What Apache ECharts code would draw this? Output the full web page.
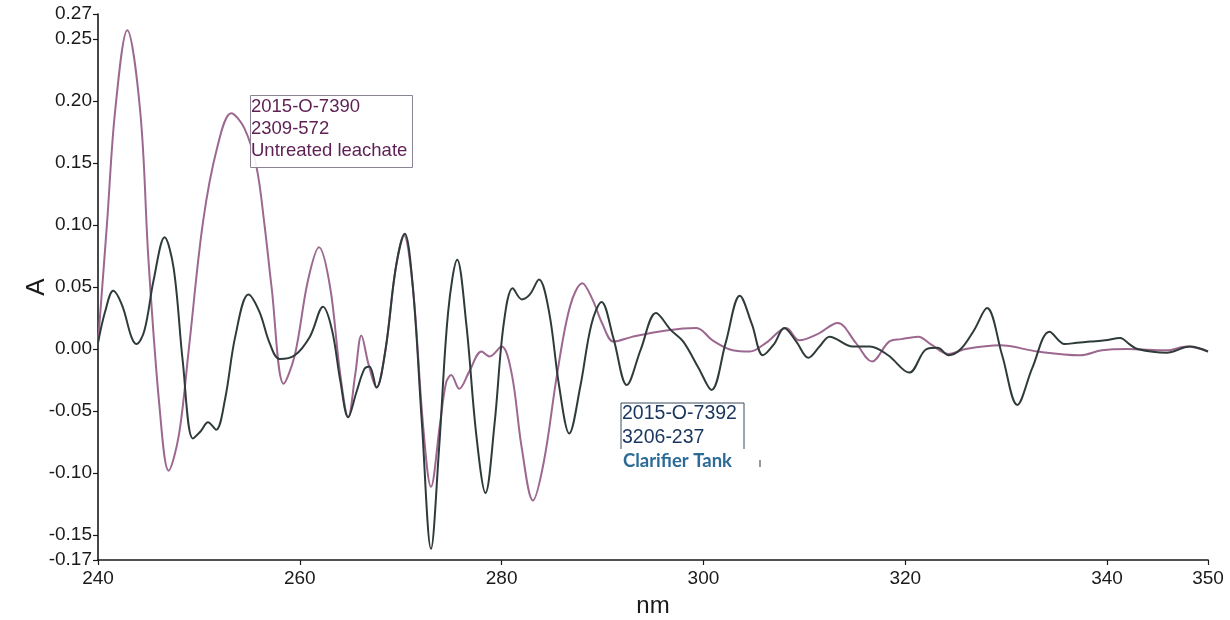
<!DOCTYPE html>
<html>
<head>
<meta charset="utf-8">
<script src="https://cdn.jsdelivr.net/npm/echarts@6/dist/echarts.min.js"></script>
<style>
  html, body { margin: 0; padding: 0; background: #fff; }
  #main { width: 1230px; height: 620px; }
</style>
</head>
<body>
<div id="main"></div>
<script>
// Untreated leachate (2015-O-7390)
var untreatedNm = [240, 240.9, 241.7, 242.9, 244.2, 245.0, 246.1, 247.0, 248.0, 249.0, 250.4, 251.8, 253.2, 254.5, 255.7, 256.5, 257.2, 258.4, 259.5, 260.8,
  261.9, 263.0, 264.0, 264.8, 265.5, 266.1, 266.8, 267.6, 268.5, 269.5, 270.3, 271.2, 272.2, 273.0, 273.9, 274.5, 275.0, 275.8, 276.8, 278.0,
  278.8, 280.0, 281.0, 282.0, 283.1, 284.2, 285.5, 286.8, 288.0, 289.0, 290.0, 291.1, 293.0, 296.3, 299.3, 300.9, 302.9, 304.6, 306.2, 308.2,
  309.5, 311.3, 313.3, 315.1, 316.7, 318.4, 319.6, 321.3, 322.5, 324.3, 326.0, 329.4, 333.1, 337.3, 339.5, 342.0, 345.9, 347.9, 350.0];
var untreatedA = [0.005, 0.102, 0.192, 0.257, 0.19, 0.072, -0.047, -0.098, -0.07, 0.0, 0.102, 0.162, 0.19, 0.178, 0.147, 0.10, 0.05, -0.028, -0.005, 0.055,
  0.082, 0.05, -0.02, -0.055, -0.02, 0.011, -0.012, -0.031, 0.0, 0.065, 0.092, 0.05, -0.06, -0.111, -0.06, -0.027, -0.021, -0.032, -0.018, -0.002,
  -0.006, 0.002, -0.02, -0.08, -0.122, -0.09, -0.02, 0.035, 0.053, 0.04, 0.02, 0.006, 0.010, 0.015, 0.017, 0.007, -0.001, -0.002, 0.005, 0.017,
  0.007, 0.012, 0.021, 0.005, -0.010, 0.006, 0.008, 0.010, 0.004, -0.004, 0.0, 0.003, -0.002, -0.005, -0.001, 0.0, -0.001, 0.002, -0.002];

// Clarifier tank (2015-O-7392)
var clarifierNm = [240, 240.7, 241.5, 242.4, 243.3, 243.8, 244.6, 245.5, 246.6, 247.5, 248.4, 249.4, 250.2, 250.9, 251.7, 252.6, 253.6, 254.9, 256.0, 257.0,
  258.0, 259.5, 261.0, 262.3, 263.2, 264.0, 264.8, 265.6, 266.4, 266.9, 267.6, 268.5, 269.5, 270.4, 271.2, 272.1, 273.0, 273.8, 274.7, 275.6,
  276.5, 277.5, 278.4, 279.3, 280.2, 281.1, 282.0, 282.8, 283.7, 284.7, 285.7, 286.7, 287.8, 288.9, 289.9, 291.1, 292.4, 293.8, 295.3, 296.8,
  298.0, 299.5, 300.8, 302.2, 303.6, 304.8, 305.9, 307.0, 308.0, 309.2, 310.4, 311.5, 312.5, 314.8, 316.5, 318.3, 320.4, 322.1, 323.2, 324.3,
  325.5, 326.8, 328.1, 329.6, 331.1, 332.6, 334.3, 335.8, 337.0, 338.3, 339.8, 341.3, 342.2, 343.0, 345.9, 348.2, 350.0];
var clarifierA = [0.005, 0.03, 0.047, 0.035, 0.01, 0.004, 0.015, 0.055, 0.09, 0.065, -0.01, -0.072, -0.066, -0.059, -0.065, -0.04, 0.01, 0.044, 0.03, 0.005,
  -0.008, -0.005, 0.01, 0.034, 0.015, -0.025, -0.055, -0.035, -0.016, -0.014, -0.031, 0.0, 0.065, 0.093, 0.05, -0.06, -0.161, -0.08, 0.03, 0.072,
  0.02, -0.07, -0.116, -0.06, 0.02, 0.049, 0.040, 0.044, 0.056, 0.03, -0.03, -0.068, -0.03, 0.02, 0.038, 0.008, -0.029, 0.0, 0.029, 0.015,
  0.006, -0.015, -0.033, 0.005, 0.043, 0.02, -0.005, 0.004, 0.017, 0.006, -0.007, 0.002, 0.010, 0.002, 0.002, -0.005, -0.019, 0.0, 0.001, -0.005,
  0.0, 0.015, 0.033, -0.005, -0.045, -0.015, 0.014, 0.004, 0.005, 0.006, 0.007, 0.009, 0.004, 0.0, -0.003, 0.002, -0.002];

var xTicks = [240, 260, 280, 300, 320, 340, 350];
var yTicks = [-0.17, -0.15, -0.10, -0.05, 0, 0.05, 0.10, 0.15, 0.20, 0.25, 0.27];

function pairs(xs, ys) {
  var out = [];
  for (var i = 0; i < xs.length; i++) out.push([xs[i], ys[i]]);
  return out;
}

var font = 'Liberation Sans, Arial, sans-serif';
var myChart = echarts.init(document.getElementById('main'), null, { renderer: 'canvas' });

var option = {
  backgroundColor: '#fff',
  animation: false,
  grid: { left: 98, right: 22, top: 14, bottom: 60, outerBoundsMode: 'none' },
  xAxis: {
    type: 'value',
    min: 240,
    max: 350,
    name: 'nm',
    nameLocation: 'middle',
    nameGap: 34,
    nameMoveOverlap: false,
    nameTextStyle: { fontFamily: font, fontSize: 24, color: '#1a1a1a' },
    axisLine: { onZero: false, lineStyle: { color: '#1a1a1a', width: 1.6 } },
    axisTick: { customValues: xTicks, length: 5, lineStyle: { color: '#1a1a1a', width: 1.2 } },
    axisLabel: { customValues: xTicks, margin: 9, fontFamily: font, fontSize: 19, color: '#1a1a1a' },
    splitLine: { show: false }
  },
  yAxis: {
    type: 'value',
    min: -0.17,
    max: 0.27,
    name: 'A',
    nameLocation: 'middle',
    nameGap: 48,
    nameMoveOverlap: false,
    nameTextStyle: { fontFamily: font, fontSize: 26, color: '#1a1a1a' },
    axisLine: { show: true, onZero: false, lineStyle: { color: '#1a1a1a', width: 1.6 } },
    axisTick: { show: true, customValues: yTicks, length: 5, lineStyle: { color: '#1a1a1a', width: 1.2 } },
    axisLabel: {
      customValues: yTicks, margin: 6, fontFamily: font, fontSize: 19, color: '#1a1a1a',
      formatter: function (v) { return v.toFixed(2); }
    },
    splitLine: { show: false }
  },
  series: [
    {
      name: 'Untreated leachate',
      type: 'line',
      data: pairs(untreatedNm, untreatedA),
      smooth: 0.35,
      showSymbol: false,
      lineStyle: { color: '#9c6890', width: 2 },
      z: 2
    },
    {
      name: 'Clarifier Tank',
      type: 'line',
      data: pairs(clarifierNm, clarifierA),
      smooth: 0.35,
      showSymbol: false,
      lineStyle: { color: '#2f3b3a', width: 2 },
      z: 3
    }
  ],
  graphic: [
    {
      type: 'rect', left: 250, top: 95, z: 10,
      shape: { width: 162, height: 72 },
      style: { fill: 'rgba(255,255,255,0.9)', stroke: '#8c8296', lineWidth: 1 }
    },
    {
      type: 'text', left: 251, top: 96, z: 11,
      style: {
        text: '2015-O-7390\n2309-572\nUntreated leachate',
        font: '18.5px ' + font, fill: '#5e1f52', lineHeight: 22
      }
    },
    {
      type: 'rect', left: 621.5, top: 403.5, z: 9,
      shape: { width: 122, height: 45 },
      style: { fill: 'rgba(255,255,255,0.9)' }
    },
    {
      type: 'polyline', z: 10,
      shape: { points: [[621, 449], [621, 403], [744, 403], [744, 449]] },
      style: { fill: null, stroke: '#3b4a5c', lineWidth: 1 }
    },
    {
      type: 'text', left: 622, top: 402, z: 11,
      style: {
        text: '2015-O-7392\n3206-237',
        font: '19.5px ' + font, fill: '#1a355e', lineHeight: 24
      }
    },
    {
      type: 'text', left: 623, top: 452, z: 11,
      style: { text: 'Clarifier Tank', font: 'bold 18.5px Lato, "Open Sans", sans-serif', fill: '#2b6b96' }
    },
    {
      type: 'line', z: 11,
      shape: { x1: 760, y1: 460, x2: 760, y2: 467 },
      style: { stroke: '#777', lineWidth: 1.5 }
    }
  ]
};

myChart.setOption(option);
</script>
</body>
</html>
